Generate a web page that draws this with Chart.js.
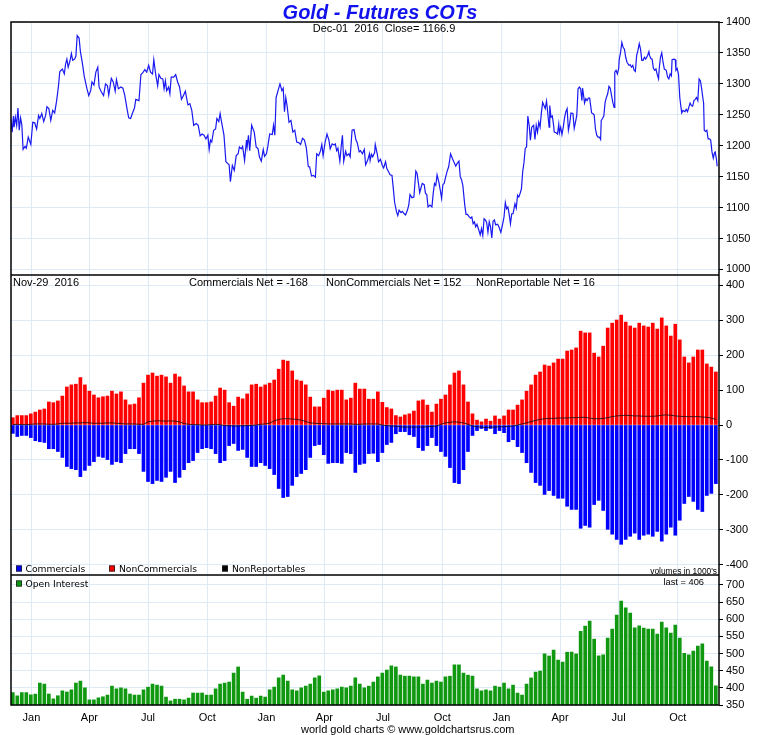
<!DOCTYPE html>
<html><head><meta charset="utf-8">
<script src="https://cdn.jsdelivr.net/npm/chart.js@4.4.1/dist/chart.umd.min.js"></script>
<style>
html,body{margin:0;padding:0;background:#fff;}
canvas{display:block;}
</style></head><body>
<canvas id="c" width="760" height="735"></canvas>
<script>
// Gold daily close: [day (days since 1 Jan 2014), close]
const goldDailyClose = [
[-32,1244],[-30,1222],[-28,1248],[-27,1230],[-25,1246],[-23,1233],[-21,1261],[-19,1225],[-17,1245],[-15,1234],[-13,1194],[-10,1199],[-8,1196],[-5,1214],[-1,1202],[2,1238],[5,1237],[8,1227],[11,1249],[13,1244],[16,1252],[19,1239],[22,1249],[24,1263],[27,1260],[30,1241],[33,1257],[36,1253],[39,1272],[42,1297],[44,1320],[48,1324],[51,1316],[53,1332],[55,1340],[57,1327],[60,1338],[62,1349],[64,1338],[67,1340],[69,1345],[71,1378],[74,1374],[76,1352],[79,1334],[82,1312],[86,1293],[89,1281],[92,1289],[94,1303],[97,1298],[100,1319],[103,1327],[105,1295],[108,1288],[112,1281],[115,1300],[118,1297],[120,1282],[124,1309],[127,1303],[130,1288],[132,1307],[135,1292],[139,1295],[142,1293],[145,1281],[148,1262],[151,1245],[154,1244],[157,1253],[160,1261],[162,1275],[167,1273],[170,1315],[173,1318],[176,1323],[179,1319],[182,1330],[185,1319],[188,1316],[190,1339],[193,1315],[196,1297],[198,1315],[201,1309],[204,1308],[206,1292],[208,1305],[210,1289],[213,1295],[215,1284],[217,1311],[221,1311],[224,1315],[227,1303],[230,1295],[233,1275],[236,1281],[239,1288],[243,1266],
[246,1268],[249,1257],[252,1233],[256,1236],[259,1233],[262,1216],[265,1219],[268,1217],[271,1211],[274,1217],[276,1194],[278,1209],[280,1206],[283,1225],[286,1227],[288,1244],[291,1239],[293,1252],[296,1234],[299,1217],[302,1174],[305,1171],[307,1169],[309,1142],[312,1168],[315,1160],[318,1184],[321,1187],[323,1198],[326,1195],[328,1199],[331,1176],[334,1209],[335,1198],[337,1217],[339,1192],[342,1233],[346,1222],[349,1198],[352,1195],[354,1182],[357,1175],[360,1194],[362,1183],[365,1187],[367,1198],[370,1219],[374,1218],[376,1233],[378,1217],[380,1278],[383,1289],[386,1300],[389,1289],[391,1293],[393,1255],[395,1278],[397,1265],[400,1238],[403,1241],[406,1222],[409,1225],[412,1206],[415,1205],[418,1202],[421,1212],[424,1209],[427,1196],[430,1166],[432,1166],[435,1151],[438,1152],[441,1149],[443,1187],[446,1184],[449,1192],[451,1202],[453,1184],[456,1205],[459,1219],[462,1209],[464,1195],[467,1203],[470,1201],[472,1203],[474,1192],[476,1196],[479,1175],[481,1198],[483,1217],[485,1175],[488,1191],[490,1184],[493,1187],[495,1182],[498,1225],[501,1226],[504,1209],[506,1205],[509,1190],[511,1192],[514,1187],[517,1194],[519,1169],[522,1176],
[525,1187],[526,1176],[528,1186],[530,1182],[533,1189],[534,1202],[537,1187],[539,1174],[542,1178],[545,1168],[547,1164],[550,1174],[552,1163],[554,1159],[557,1153],[560,1152],[562,1131],[564,1109],[567,1093],[569,1087],[571,1096],[574,1092],[576,1094],[579,1090],[581,1088],[584,1096],[586,1104],[588,1121],[591,1116],[594,1117],[597,1159],[599,1155],[601,1140],[603,1124],[605,1132],[607,1139],[610,1137],[612,1123],[614,1121],[616,1101],[619,1104],[622,1101],[624,1123],[626,1139],[628,1136],[630,1153],[633,1140],[635,1128],[637,1115],[639,1137],[641,1139],[643,1148],[646,1160],[648,1166],[651,1187],[654,1179],[656,1174],[659,1167],[661,1171],[664,1175],[666,1150],[668,1145],[670,1136],[673,1104],[675,1089],[677,1089],[680,1085],[682,1083],[684,1085],[686,1074],[688,1077],[690,1069],[692,1073],[695,1063],[697,1056],[699,1066],[701,1055],[703,1082],[705,1080],[707,1076],[709,1060],[711,1077],[713,1069],[715,1051],[717,1078],[719,1080],[721,1072],[724,1073],[726,1069],[729,1060],[731,1069],[734,1085],[736,1108],[738,1098],[740,1101],[742,1089],[744,1074],[746,1090],[748,1090],[751,1106],[753,1099],[755,1120],[757,1117],[759,1123],[761,1130],[763,1158],[765,1173],[767,1196],[769,1198],[771,1248],[773,1233],[775,1209],[777,1230],[780,1233],[782,1210],[784,1233],[786,1222],[788,1238],[790,1230],[792,1253],[794,1270],[796,1265],[798,1260],[800,1272],
[802,1252],[804,1230],[805,1265],[807,1246],[809,1248],[811,1233],[812,1222],[815,1221],[817,1219],[819,1235],[820,1221],[822,1230],[824,1218],[826,1230],[828,1245],[830,1255],[832,1260],[834,1225],[836,1236],[838,1253],[841,1252],[843,1228],[845,1238],[847,1249],[849,1292],[851,1295],[853,1292],[855,1273],[856,1293],[858,1278],[859,1269],[861,1276],[863,1273],[865,1277],[867,1277],[870,1253],[872,1252],[874,1250],[876,1227],[878,1217],[880,1214],[882,1214],[884,1210],[885,1241],[887,1244],[889,1248],[891,1270],[893,1278],[895,1284],[897,1296],[899,1293],[901,1281],[903,1270],[905,1262],[906,1319],[908,1322],[910,1316],[912,1324],[913,1340],[915,1351],[917,1367],[919,1359],[921,1356],[923,1343],[925,1335],[928,1330],[930,1331],[932,1327],[934,1330],[936,1322],[938,1320],[940,1346],[942,1354],[944,1365],[946,1356],[948,1338],[950,1338],[952,1343],[954,1340],[957,1346],[959,1352],[960,1346],[962,1341],[964,1340],[966,1325],[968,1322],[970,1324],[972,1315],[974,1308],[975,1324],[977,1343],[979,1350],[981,1335],[983,1324],[986,1322],[988,1311],[990,1308],[992,1316],[994,1313],[995,1339],[998,1340],[1000,1339],[1001,1322],[1003,1325],[1005,1315],[1007,1278],[1008,1269],[1010,1253],[1012,1257],[1015,1255],[1017,1259],[1019,1255],[1021,1262],[1023,1269],[1025,1265],[1027,1264],[1029,1273],[1031,1275],[1033,1278],[1035,1273],[1037,1308],[1039,1305],[1041,1292],[1043,1276],[1044,1269],[1045,1225],[1047,1223],[1049,1225],[1051,1211],[1053,1211],[1055,1209],[1057,1190],[1059,1180],[1061,1189],[1062,1190],[1064,1178],[1065,1166.9]
];

// Weekly COT reports, first report 3 Dec 2013 (day -29), one per week
const firstReportDay = -29;
const reportStepDays = 7;

const commercials = [
-24,-33,-30,-30,-36,-45,-48,-50,-68,-68,
-76,-93,-119,-125,-128,-148,-130,-116,-105,-90,
-93,-99,-113,-105,-108,-82,-68,-68,-82,-133,
-162,-168,-159,-162,-150,-133,-165,-150,-128,-108,
-102,-79,-68,-65,-68,-82,-108,-102,-59,-53,
-73,-70,-93,-119,-119,-108,-116,-125,-142,-182,
-208,-205,-173,-148,-139,-128,-93,-59,-56,-85,
-110,-108,-108,-110,-79,-82,-136,-113,-110,-82,
-81,-105,
-79,-56,-50,-25,-19,-19,-28,-33,-65,-73,
-59,-36,-59,-76,-90,-122,-165,-168,-128,-76,
-30,-16,-10,-16,-10,-25,-16,-22,-48,-42,
-62,-79,-108,-136,-165,-173,-199,-188,-202,-210,
-210,-233,-242,-242,-296,-288,-293,-228,-216,-245,
-299,-313,-328,-342,-328,-319,-310,-328,-316,-313,
-319,-305,-333,-313,-293,-316,-273,-225,-205,-219,
-242,-248,-202,-196,-168
];

const nonCommercials = [
21,27,27,27,32,37,43,46,66,64,
69,83,109,115,117,136,115,97,86,78,
81,83,97,89,95,72,58,60,78,120,
143,149,140,143,138,120,146,138,112,95,
95,72,64,64,66,83,106,100,64,54,
80,75,89,115,117,109,115,120,129,160,
186,183,155,129,126,115,80,52,52,77,
100,97,100,100,72,77,120,103,103,74,
74,95,
65,50,46,27,23,29,32,40,69,72,
57,37,60,74,86,115,149,155,115,66,
32,14,9,17,11,26,17,26,43,43,
57,72,97,115,143,152,172,169,178,189,
189,212,215,221,269,264,264,206,195,226,
278,292,301,315,295,284,278,292,284,281,
292,275,307,284,255,289,244,195,178,195,
215,215,175,166,152
];

const nonReportables = [
1,2,1,1,2,3,3,3,2,2,3,
5,5,5,6,6,7,6,5,5,5,6,6,5,4,3,3,3,
2,2,
9,11,12,12,11,12,11,9,
4,2,1,1,0,0,1,2,1,
-2,-2,-3,-3,-2,-2,-1,0,
2,3,5,
12,16,18,18,17,16,14,10,
6,5,4,4,
3,3,3,3,3,3,2,2,3,3,3,3,
0,-2,-3,-3,
-5,-6,-6,-6,-6,-6,-5,-4,-3,
2,6,8,9,8,6,2,
-3,-5,-6,-7,-6,-6,-5,-5,-4,-3,
0,3,6,10,13,16,
18,19,19,20,20,20,21,21,
22,22,20,18,18,19,21,
24,26,27,28,27,26,26,25,25,25,26,
28,29,28,
26,25,24,24,24,24,23,22,20,
16
];

const openInterest = [
386,377,386,386,380,382,414,411,382,368,
377,391,388,394,414,420,400,365,365,371,
374,379,405,397,400,397,382,379,379,394,
402,411,408,405,373,362,367,367,365,370,
385,385,385,379,379,397,411,414,417,443,
461,388,367,376,370,376,373,394,402,429,
437,420,394,391,400,405,411,429,435,388,
391,394,397,402,400,405,429,411,400,405,
417,432,
443,452,464,461,437,434,434,432,432,411,
423,414,420,417,432,434,467,467,443,437,
434,397,391,394,391,405,402,414,397,408,
385,379,411,429,446,449,499,493,510,481,
475,504,504,499,565,580,595,542,493,496,
545,571,612,653,633,618,575,581,574,571,
571,557,592,575,560,583,545,501,496,507,
522,528,478,461,406
];

// X axis: quarter-start days (since 1 Jan 2014) and labels
const monthTickDays = [0,90,181,273,365,455,546,638,730,821,912,1004];
const monthTickLabels = ['Jan','Apr','Jul','Oct','Jan','Apr','Jul','Oct','Jan','Apr','Jul','Oct'];

const reportDays = commercials.map((_, i) => firstReportDay + reportStepDays * i);
const weekly = arr => arr.map((v, i) => ({x: reportDays[i], y: v}));

const GRID = '#dfeaf7';
const AXFONT = {family: 'Liberation Sans, Arial, sans-serif', size: 11};

function yScale(weight, min, max, step) {
  return {
    type: 'linear', position: 'right', stack: 'panels', stackWeight: weight,
    min: min, max: max, offset: false,
    afterBuildTicks: s => {
      const t = [];
      for (let v = Math.ceil(min / step) * step; v <= max; v += step) t.push({value: v});
      s.ticks = t;
    },
    afterFit: s => { s.width = 41; },
    grid: {color: GRID, lineWidth: 1, drawTicks: true, tickLength: 4, tickColor: '#000', tickWidth: 1},
    border: {display: false},
    ticks: {stepSize: step, color: '#000', font: AXFONT, padding: 3, autoSkip: false,
            callback: v => String(Math.round(v))}
  };
}

const framePlugin = {
  id: 'frame',
  afterDraw(chart) {
    const ctx = chart.ctx, a = chart.chartArea;
    const yC = chart.scales.yC, yO = chart.scales.yO;
    ctx.save();
    ctx.strokeStyle = '#000'; ctx.lineWidth = 1.5;
    ctx.strokeRect(a.left, a.top, a.right - a.left, a.bottom - a.top);
    ctx.beginPath();
    ctx.moveTo(a.left, yC.top); ctx.lineTo(a.right, yC.top);
    ctx.moveTo(a.left, yO.top); ctx.lineTo(a.right, yO.top);
    ctx.stroke();

    const sans = '"Liberation Sans", Arial, sans-serif';
    // title
    ctx.fillStyle = '#1212ee';
    ctx.font = 'italic bold 20px ' + sans;
    ctx.textAlign = 'center'; ctx.textBaseline = 'alphabetic';
    ctx.fillText('Gold - Futures COTs', 380, 19);
    ctx.fillStyle = '#000';
    ctx.font = '11px ' + sans;
    ctx.fillText('Dec-01  2016  Close= 1166.9', 384, 32);

    // middle panel header
    ctx.textAlign = 'left';
    ctx.fillText('Nov-29  2016', 13, 286);
    ctx.fillText('Commercials Net = -168', 189, 286);
    ctx.fillText('NonCommercials Net = 152', 326, 286);
    ctx.fillText('NonReportable Net = 16', 476, 286);

    // legends
    const legFont = '9.2px "DejaVu Sans", Verdana, sans-serif';
    const box = (x, y, c) => {
      ctx.fillStyle = c; ctx.fillRect(x, y, 6, 6);
      ctx.strokeStyle = '#222'; ctx.lineWidth = 0.8; ctx.strokeRect(x + 0.4, y + 0.4, 5.2, 5.2);
    };
    ctx.font = legFont;
    box(16, 565.5, '#0000ff'); ctx.fillStyle = '#000'; ctx.fillText('Commercials', 25.5, 572);
    box(109, 565.5, '#ff0000'); ctx.fillStyle = '#000'; ctx.fillText('NonCommercials', 119, 572);
    box(222, 565.5, '#000000'); ctx.fillStyle = '#000'; ctx.fillText('NonReportables', 232, 572);
    box(16, 580.5, '#109910'); ctx.fillStyle = '#000'; ctx.fillText('Open Interest', 25.5, 587);

    ctx.textAlign = 'right';
    ctx.font = '8.4px ' + sans;
    ctx.fillText("volumes in 1000's", 717, 573.5);
    ctx.font = '9.3px ' + sans;
    ctx.fillText('last = 406', 704, 585);

    // footer
    ctx.textAlign = 'left';
    ctx.font = '11px ' + sans;
    ctx.fillText('world gold charts \u00A9 www.goldchartsrus.com', 301, 733);
    ctx.restore();
  }
};

new Chart(document.getElementById('c'), {
  type: 'bar',
  data: {
    datasets: [
      {type: 'line', label: 'Gold', data: goldDailyClose.map(p => ({x: p[0], y: p[1]})), yAxisID: 'yP',
       borderColor: '#1818f0', borderWidth: 1.2, pointRadius: 0, tension: 0, order: 0},
      {type: 'line', label: 'NonReportables', data: weekly(nonReportables), yAxisID: 'yC',
       borderColor: 'rgba(0,0,0,0.75)', borderWidth: 1, pointRadius: 0, tension: 0, order: 0},
      {type: 'bar', label: 'NonCommercials', data: weekly(nonCommercials), yAxisID: 'yC',
       backgroundColor: '#ff0000', barThickness: 3, grouped: false, order: 1},
      {type: 'bar', label: 'Commercials', data: weekly(commercials), yAxisID: 'yC',
       backgroundColor: '#0000ff', barThickness: 3, grouped: false, order: 1},
      {type: 'bar', label: 'Open Interest', data: weekly(openInterest), yAxisID: 'yO',
       backgroundColor: '#109910', barThickness: 3, grouped: false, order: 1}
    ]
  },
  options: {
    responsive: false, animation: false, events: [],
    layout: {padding: {left: 11, top: 22, right: 0, bottom: 0}},
    plugins: {legend: {display: false}, tooltip: {enabled: false}, title: {display: false}},
    scales: {
      x: {
        type: 'linear', position: 'bottom', min: -31.8, max: 1067.9, offset: false,
        afterBuildTicks: s => { s.ticks = monthTickDays.map(v => ({value: v})); },
        afterFit: s => { s.height = 30; },
        grid: {color: GRID, lineWidth: 1, drawTicks: false, offset: false},
        border: {display: false},
        ticks: {autoSkip: false, maxRotation: 0, minRotation: 0, padding: 6, color: '#000', font: AXFONT,
                callback: (v, i) => monthTickLabels[i]}
      },
      yP: yScale(253, 991, 1400, 50),
      yC: yScale(300, -430, 430, 100),
      yO: yScale(130, 350, 729, 50)
    }
  },
  plugins: [framePlugin]
});
</script>
</body></html>
